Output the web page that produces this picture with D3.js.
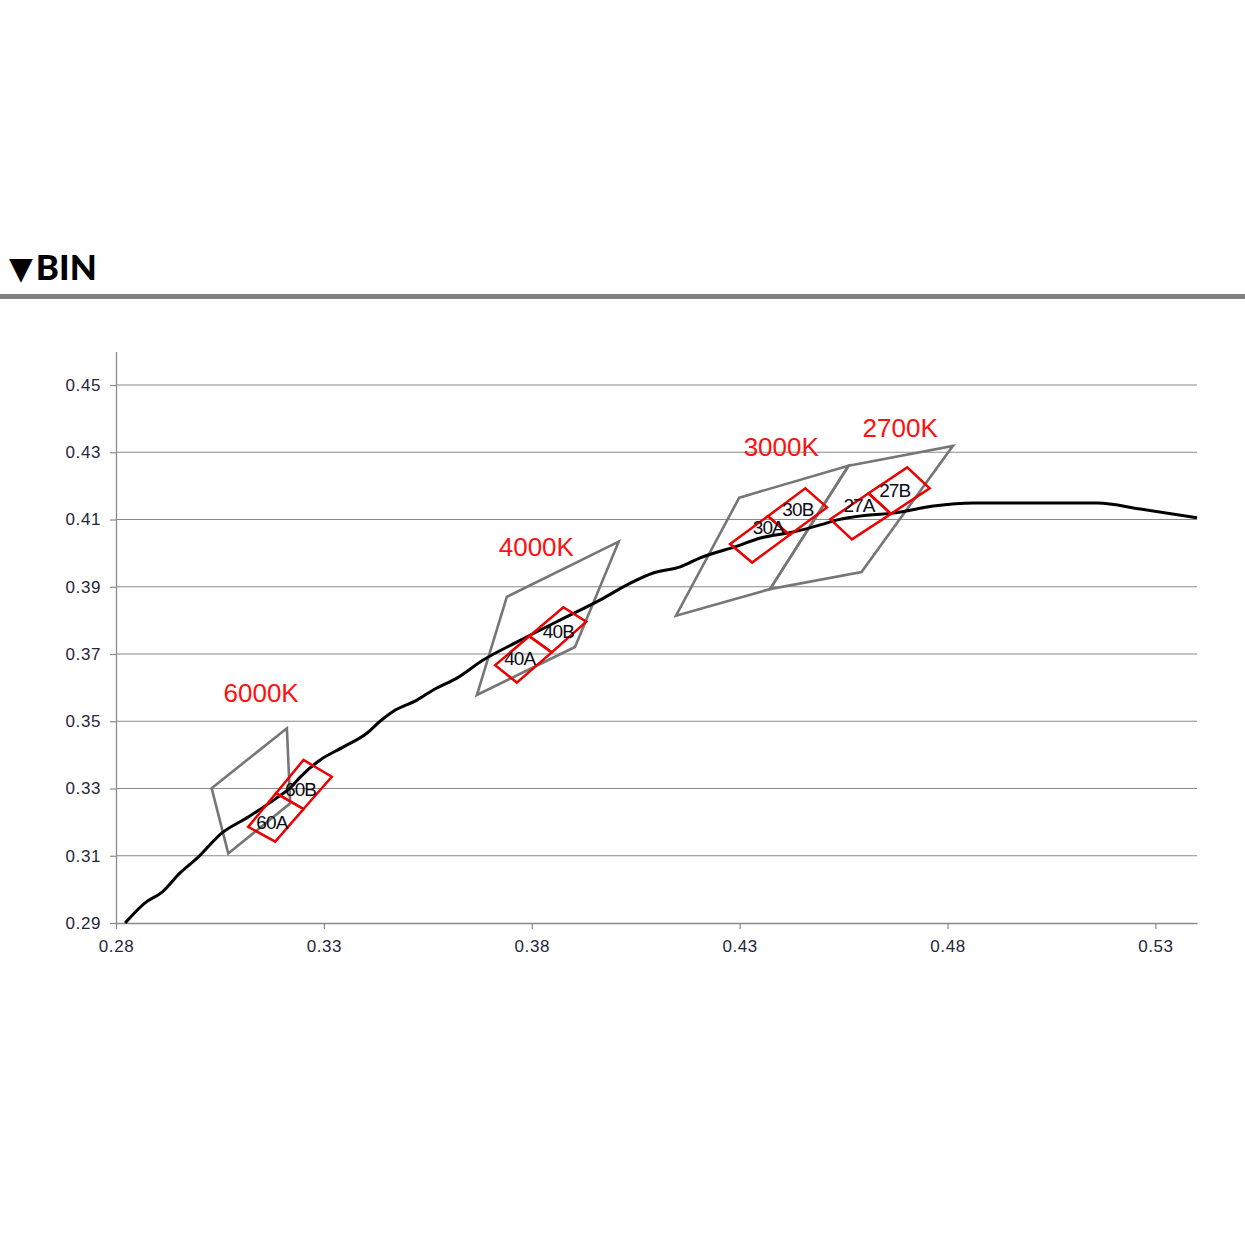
<!DOCTYPE html>
<html><head><meta charset="utf-8">
<script src="https://cdn.jsdelivr.net/npm/d3@7/dist/d3.min.js"></script>
<style>html,body{margin:0;padding:0;background:#fff}svg{display:block}</style>
</head><body>
<svg id="chart" width="1245" height="1245"></svg>
<script>
// ---------- data ----------
const title = "BIN";
const xTicks = [0.28, 0.33, 0.38, 0.43, 0.48, 0.53];
const yTicks = [0.29, 0.31, 0.33, 0.35, 0.37, 0.39, 0.41, 0.43, 0.45];

// black locus curve (x, y chromaticity)
const locusX = [0.2822,0.2870,0.2911,0.2954,0.2995,0.3055,0.3118,0.3190,0.3219,0.3243,0.3291,0.3346,0.3404,0.3435,0.3467,0.3524,0.3563,0.3621,0.3683,0.3765,0.3868,0.3965,0.4037,0.4092,0.4157,0.4205,0.4294,0.4350,0.4429,0.4494,0.4535,0.4607,0.4670,0.4766,0.4862,0.5161,0.5264,0.5400];
const locusY = [0.2900,0.2960,0.2992,0.3049,0.3093,0.3168,0.3215,0.3275,0.3302,0.3334,0.3385,0.3423,0.3465,0.3500,0.3530,0.3563,0.3593,0.3629,0.3682,0.3736,0.3801,0.3861,0.3911,0.3941,0.3959,0.3986,0.4021,0.4045,0.4063,0.4084,0.4099,0.4113,0.4119,0.4140,0.4149,0.4149,0.4131,0.4105];

// CCT quadrangles (gray)
const cctNames  = ["6000K", "4000K", "3000K", "2700K"];
const cctQuadX  = [[0.3030,0.3211,0.3219,0.3070],[0.3740,0.4009,0.3904,0.3668],[0.4299,0.4562,0.4373,0.4147],[0.4562,0.4813,0.4593,0.4373]];
const cctQuadY  = [[0.3301,0.3479,0.3256,0.3107],[0.3870,0.4034,0.3721,0.3578],[0.4165,0.4260,0.3893,0.3814],[0.4260,0.4319,0.3944,0.3893]];
const cctLabelX = [0.3149, 0.3811, 0.4400, 0.4686];
const cctLabelY = [0.3584, 0.4018, 0.4316, 0.4372];

// sub-bins (red)
const binNames  = ["60A","60B","40A","40B","30A","30B","27A","27B"];
const binX = [
  [0.3118,0.3185,0.3251,0.3183],[0.3185,0.3251,0.3319,0.3251],
  [0.3712,0.3794,0.3848,0.3764],[0.3794,0.3876,0.3931,0.3848],
  [0.4277,0.4368,0.4420,0.4330],[0.4368,0.4458,0.4510,0.4420],
  [0.4518,0.4610,0.4664,0.4570],[0.4610,0.4703,0.4757,0.4664]];
const binY = [
  [0.3186,0.3286,0.3239,0.3142],[0.3286,0.3385,0.3335,0.3239],
  [0.3667,0.3753,0.3705,0.3615],[0.3753,0.3839,0.3796,0.3705],
  [0.4027,0.4110,0.4054,0.3972],[0.4110,0.4193,0.4136,0.4054],
  [0.4101,0.4178,0.4117,0.4041],[0.4178,0.4255,0.4193,0.4117]];
const binLabelX = [0.3175,0.3244,0.3771,0.3864,0.4369,0.4440,0.4587,0.4673];
const binLabelY = [0.3200,0.3298,0.3687,0.3766,0.4075,0.4129,0.4143,0.4186];

// ---------- drawing ----------
const svg = d3.select("#chart");
svg.append("rect").attr("width",1245).attr("height",1245).attr("fill","#fff");

// header
const head = svg.append("text").attr("x", 9).attr("y", 280)
  .attr("font-family", "Lato, 'Open Sans', sans-serif").attr("font-weight", 900)
  .attr("font-size", 35).attr("fill", "#000");
head.append("tspan").attr("font-family", "'DejaVu Sans', sans-serif").attr("font-weight", 400)
  .attr("font-size", 31).attr("dy", -1).text("▼");
head.append("tspan").attr("dx", 3).attr("dy", 1).text(title);
svg.append("rect").attr("x",0).attr("y",294).attr("width",1245).attr("height",5).attr("fill","#808080");

const x = d3.scaleLinear().domain([0.28, 0.54]).range([116, 1197]);
const y = d3.scaleLinear().domain([0.29, 0.46]).range([923, 351.4]);

const font = "'Liberation Sans', Arial, sans-serif";

// gridlines
svg.append("g").selectAll("line").data(yTicks.filter(v => v > 0.29)).join("line")
  .attr("x1", x(0.28)).attr("x2", x(0.54))
  .attr("y1", d => y(d)).attr("y2", d => y(d))
  .attr("stroke", "#8a8a8a").attr("stroke-width", 1.2);

// axes
const yAxis = svg.append("g").attr("transform", `translate(${x(0.28)},0)`)
  .call(d3.axisLeft(y).tickValues(yTicks).tickFormat(d3.format(".2f")).tickSize(6).tickSizeOuter(0).tickPadding(9));
const xAxis = svg.append("g").attr("transform", `translate(0,${y(0.29)})`)
  .call(d3.axisBottom(x).tickValues(xTicks).tickFormat(d3.format(".2f")).tickSize(6).tickSizeOuter(0).tickPadding(11));
[yAxis, xAxis].forEach(a => {
  a.select(".domain").attr("stroke", "#8a8a8a").attr("stroke-width", 1.3);
  a.selectAll(".tick line").attr("stroke", "#8a8a8a").attr("stroke-width", 1.2);
  a.selectAll(".tick text").attr("font-family", font).attr("font-size", 17)
    .attr("letter-spacing", 0.6).attr("fill", "#26263a");
});

// gray CCT quads
const line = d3.line();
svg.append("g").selectAll("path").data(cctNames).join("path")
  .attr("d", (d, i) => line(cctQuadX[i].map((v, j) => [x(v), y(cctQuadY[i][j])])) + "Z")
  .attr("fill", "none").attr("stroke", "#767676").attr("stroke-width", 2.6)
  .attr("stroke-linejoin", "miter");

// locus curve
svg.append("path")
  .attr("d", d3.line().curve(d3.curveMonotoneX)(locusX.map((v, i) => [x(v), y(locusY[i])])))
  .attr("fill", "none").attr("stroke", "#000").attr("stroke-width", 3)
  .attr("stroke-linejoin", "round");

// red bins
svg.append("g").selectAll("path").data(binNames).join("path")
  .attr("d", (d, i) => line(binX[i].map((v, j) => [x(v), y(binY[i][j])])) + "Z")
  .attr("fill", "none").attr("stroke", "#ee0000").attr("stroke-width", 2.5);

// bin labels
svg.append("g").selectAll("text").data(binNames).join("text")
  .attr("x", (d, i) => x(binLabelX[i])).attr("y", (d, i) => y(binLabelY[i]))
  .attr("text-anchor", "middle").attr("dominant-baseline", "central")
  .attr("font-family", font).attr("font-size", 19).attr("letter-spacing", -0.9)
  .attr("fill", "#0a0a14").text(d => d);

// CCT labels
svg.append("g").selectAll("text").data(cctNames).join("text")
  .attr("x", (d, i) => x(cctLabelX[i])).attr("y", (d, i) => y(cctLabelY[i]))
  .attr("text-anchor", "middle").attr("dominant-baseline", "central")
  .attr("font-family", font).attr("font-size", 26)
  .attr("fill", "#ff1010").text(d => d);
</script>
</body></html>
